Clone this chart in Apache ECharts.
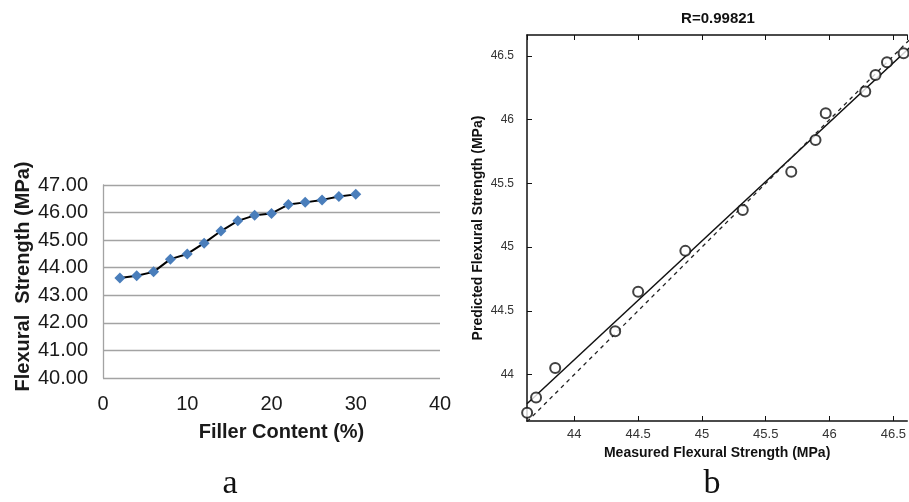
<!DOCTYPE html>
<html>
<head>
<meta charset="utf-8">
<script src="https://cdn.jsdelivr.net/npm/echarts@6/dist/echarts.min.js"></script>
<style>
  html, body { margin: 0; padding: 0; background: #fff; }
  #chart { width: 909px; height: 502px; }
</style>
</head>
<body>
<div id="chart"></div>
<script>
// (a) filler content vs flexural strength
const fillerContent = [2, 4, 6, 8, 10, 12, 14, 16, 18, 20, 22, 24, 26, 28, 30]
const flexStrength = [43.63, 43.71, 43.85, 44.31, 44.50, 44.89, 45.33, 45.70, 45.90, 45.97, 46.29, 46.37, 46.46, 46.58, 46.66]
const yTicksA = [40, 41, 42, 43, 44, 45, 46, 47]

// (b) measured vs predicted (visible points)
const measured = [43.63, 43.70, 43.85, 44.32, 44.50, 44.87, 45.32, 45.70, 45.89, 45.97, 46.28, 46.36, 46.45, 46.58]
const predicted = [43.70, 43.82, 44.05, 44.34, 44.65, 44.97, 45.29, 45.59, 45.84, 46.05, 46.22, 46.35, 46.45, 46.52]
// regression line endpoints
const fitX = [43.629, 46.7]
const fitY = [43.77, 46.632]
// identity line y = x
const idX = [43.629, 46.7]
const idY = [43.629, 46.7]

const sans = 'Liberation Sans, Arial, Helvetica, sans-serif'
const serif = 'Liberation Serif, Times New Roman, serif'
const gridGray = '#a3a3a3'

// 0.5 步长刻度才显示
const halfStep = v => (Math.abs(v * 2 - Math.round(v * 2)) < 1e-6 ? String(+v.toFixed(1)) : '')

const myChart = echarts.init(document.getElementById('chart'))

const option = {
  animation: false,
  backgroundColor: '#fff',

  grid: [
    { left: 103, top: 185, width: 337, height: 193 },
    { left: 527, top: 35, width: 382, height: 386 }
  ],

  xAxis: [
    {
      gridIndex: 0,
      type: 'value',
      min: 0,
      max: 40,
      interval: 10,
      axisLine: { show: false },
      axisTick: { show: false },
      splitLine: { show: false },
      axisLabel: { color: '#1a1a1a', fontSize: 20, fontFamily: sans, margin: 16 },
      name: 'Filler Content (%)',
      nameLocation: 'middle',
      nameGap: 44,
      nameTextStyle: { color: '#1a1a1a', fontSize: 20, fontWeight: 'bold', fontFamily: sans, padding: [0, 0, 0, 20] }
    },
    {
      gridIndex: 1,
      type: 'value',
      min: 43.629,
      max: 46.609,
      splitNumber: 5,
      axisLine: { show: true, onZero: false, lineStyle: { color: '#111', width: 1.5 } },
      axisTick: { show: true, inside: true, length: 5, lineStyle: { color: '#111' } },
      splitLine: { show: false },
      axisLabel: { color: '#333', fontSize: 13, fontFamily: sans, margin: 7, formatter: halfStep, showMinLabel: false, showMaxLabel: false },
      name: 'Measured Flexural Strength (MPa)',
      nameLocation: 'middle',
      nameGap: 25,
      nameTextStyle: { color: '#111', fontSize: 14, fontWeight: 'bold', fontFamily: sans, padding: [0, 0, 0, 0] }
    },
    {
      gridIndex: 1,
      type: 'value',
      position: 'top',
      min: 43.629,
      max: 46.609,
      splitNumber: 5,
      axisLine: { show: true, onZero: false, lineStyle: { color: '#111', width: 1.5 } },
      axisTick: { show: true, inside: true, length: 5, lineStyle: { color: '#111' } },
      axisLabel: { show: false },
      splitLine: { show: false }
    }
  ],

  yAxis: [
    {
      gridIndex: 0,
      type: 'value',
      min: yTicksA[0],
      max: yTicksA[yTicksA.length - 1],
      interval: 1,
      axisLine: { show: true, lineStyle: { color: gridGray, width: 1.3 } },
      axisTick: { show: false },
      splitLine: { show: true, lineStyle: { color: gridGray, width: 1.3 } },
      axisLabel: { color: '#1a1a1a', fontSize: 20, fontFamily: sans, margin: 15, formatter: v => v.toFixed(2) },
      name: 'Flexural  Strength (MPa)',
      nameLocation: 'middle',
      nameGap: 70,
      nameTextStyle: { color: '#1a1a1a', fontSize: 20, fontWeight: 'bold', fontFamily: sans, padding: [0, 0, 0, 10] }
    },
    {
      gridIndex: 1,
      type: 'value',
      min: 43.635,
      max: 46.664,
      splitNumber: 5,
      axisLine: { show: true, onZero: false, lineStyle: { color: '#111', width: 1.5 } },
      axisTick: { show: true, inside: true, length: 5, lineStyle: { color: '#111' } },
      splitLine: { show: false },
      axisLabel: { color: '#333', fontSize: 12, fontFamily: sans, margin: 13, formatter: halfStep, showMinLabel: false, showMaxLabel: false },
      name: 'Predicted Flexural Strength (MPa)',
      nameLocation: 'middle',
      nameGap: 42,
      nameTextStyle: { color: '#111', fontSize: 14, fontWeight: 'bold', fontFamily: sans }
    }
  ],

  graphic: [
    {
      type: 'text',
      x: 718,
      y: 19,
      style: { text: 'R=0.99821', fill: '#111', font: 'bold 15px ' + sans, textAlign: 'center', textVerticalAlign: 'middle' }
    },
    {
      type: 'text',
      x: 230,
      y: 484,
      style: { text: 'a', fill: '#111', font: '34px ' + serif, textAlign: 'center', textVerticalAlign: 'middle' }
    },
    {
      type: 'text',
      x: 712,
      y: 484,
      style: { text: 'b', fill: '#111', font: '34px ' + serif, textAlign: 'center', textVerticalAlign: 'middle' }
    }
  ],

  series: [
    {
      name: 'strength',
      type: 'line',
      xAxisIndex: 0,
      yAxisIndex: 0,
      data: fillerContent.map((x, i) => [x, flexStrength[i]]),
      symbol: 'diamond',
      symbolSize: 11,
      itemStyle: { color: '#4a7ebb' },
      lineStyle: { color: '#000', width: 2 },
      z: 3
    },
    {
      name: 'fit',
      type: 'line',
      xAxisIndex: 1,
      yAxisIndex: 1,
      data: fitX.map((x, i) => [x, fitY[i]]),
      showSymbol: false,
      symbol: 'none',
      lineStyle: { color: '#111', width: 1.5 },
      clip: true
    },
    {
      name: 'identity',
      type: 'line',
      xAxisIndex: 1,
      yAxisIndex: 1,
      data: idX.map((x, i) => [x, idY[i]]),
      showSymbol: false,
      symbol: 'none',
      lineStyle: { color: '#222', width: 1.3, type: [4, 4] },
      clip: true
    },
    {
      name: 'points',
      type: 'scatter',
      xAxisIndex: 1,
      yAxisIndex: 1,
      data: measured.map((x, i) => [x, predicted[i]]),
      symbol: 'emptyCircle',
      symbolSize: 10,
      itemStyle: { color: '#111', borderColor: '#111', borderWidth: 1.3 },
      clip: true,
      z: 4
    }
  ]
}

myChart.setOption(option)
</script>
</body>
</html>
